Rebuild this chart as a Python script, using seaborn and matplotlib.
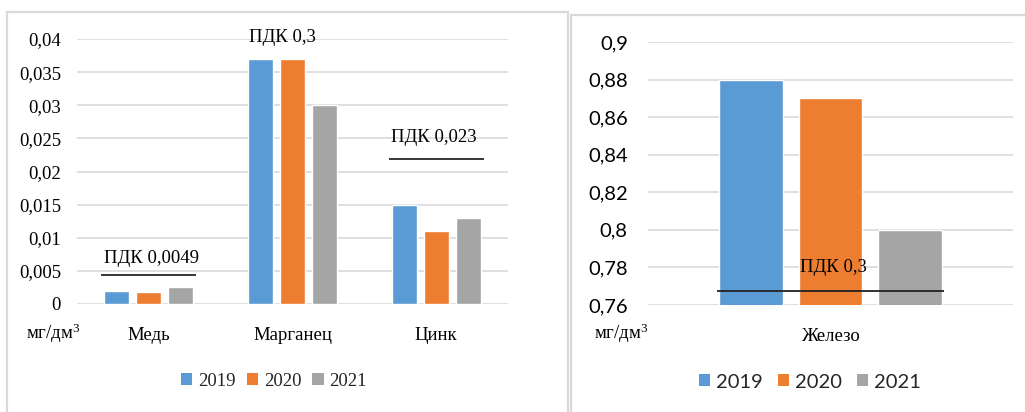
import matplotlib
matplotlib.use("Agg")
import matplotlib.pyplot as plt
from matplotlib.patches import Rectangle
import seaborn as sns
import pandas as pd

# ---- data ----
years = ["2019", "2020", "2021"]
left_categories = ["Медь", "Марганец", "Цинк"]
left_2019 = [0.002, 0.037, 0.015]
left_2020 = [0.0018, 0.037, 0.011]
left_2021 = [0.0025, 0.030, 0.013]
left_yticks = [0, 0.005, 0.01, 0.015, 0.02, 0.025, 0.03, 0.035, 0.04]
left_yticklabels = ["0", "0,005", "0,01", "0,015", "0,02", "0,025", "0,03", "0,035", "0,04"]
left_pdk_labels = ["ПДК 0,0049", "ПДК 0,3", "ПДК 0,023"]
left_pdk_lines = [0.0044, None, 0.0219]

right_categories = ["Железо"]
right_2019 = [0.88]
right_2020 = [0.87]
right_2021 = [0.80]
right_yticks = [0.76, 0.78, 0.80, 0.82, 0.84, 0.86, 0.88, 0.90]
right_yticklabels = ["0,76", "0,78", "0,8", "0,82", "0,84", "0,86", "0,88", "0,9"]
right_pdk_label = "ПДК 0,3"
right_pdk_line = 0.7676

unit_label = "мг/дм$^3$"
colors = ["#5B9BD5", "#ED7D31", "#A5A5A5"]

sns.set_theme(style="white")
plt.rcParams["font.family"] = ["Liberation Serif", "DejaVu Serif"]
plt.rcParams["mathtext.fontset"] = "custom"
plt.rcParams["mathtext.rm"] = "Liberation Serif"
plt.rcParams["mathtext.it"] = "Liberation Serif"
plt.rcParams["mathtext.default"] = "rm"

W, H = 1025, 412
fig = plt.figure(figsize=(W / 100, H / 100), dpi=100)
fig.patch.set_facecolor("white")

def fx(px):
    return px / W

def fy(py):
    return 1 - py / H

# panel borders
fig.patches.append(Rectangle((fx(7), fy(420)), fx(567.5) - fx(7), fy(12) - fy(420),
                             transform=fig.transFigure, fill=False, edgecolor="#d9d9d9",
                             linewidth=1.6, zorder=0))
fig.patches.append(Rectangle((fx(571), fy(420)), fx(1030) - fx(571), fy(15) - fy(420),
                             transform=fig.transFigure, fill=False, edgecolor="#d9d9d9",
                             linewidth=1.6, zorder=0))

def long_df(cats, a, b, c):
    rows = []
    for i, cat in enumerate(cats):
        for y, vals in zip(years, (a, b, c)):
            rows.append({"cat": cat, "year": y, "val": vals[i]})
    return pd.DataFrame(rows)

# ---------- left chart ----------
axL = fig.add_axes([fx(77), fy(304), fx(508) - fx(77), fy(39) - fy(304)])
dfL = long_df(left_categories, left_2019, left_2020, left_2021)
sns.barplot(data=dfL, x="cat", y="val", hue="year", palette=colors, ax=axL,
            width=0.668, gap=0.22, errorbar=None, saturation=1, legend=False, zorder=3)
axL.set_ylim(0, 0.04)
axL.set_xlim(-0.5, 2.5)
axL.set_yticks(left_yticks)
axL.set_yticklabels(left_yticklabels)
axL.yaxis.grid(True, color="#d9d9d9", linewidth=1.2, zorder=0)
axL.set_axisbelow(True)
for s in axL.spines.values():
    s.set_visible(False)
axL.tick_params(axis="y", length=0, pad=11.5, labelsize=13.5)
axL.tick_params(axis="x", length=0, pad=16.5, labelsize=13.5)
axL.set_xlabel("")
axL.set_ylabel("")
for lab in axL.get_yticklabels() + axL.get_xticklabels():
    lab.set_color("black")

half = 0.33
pdk_text_pos = [(0.02, 0.0069), (0.93, 0.0403), (1.985, 0.0252)]
for i, (lab, lvl) in enumerate(zip(left_pdk_labels, left_pdk_lines)):
    if lvl is not None:
        axL.hlines(lvl, i - half, i + half, color="black", linewidth=1.1, zorder=5)
    tx, ty = pdk_text_pos[i]
    axL.text(tx, ty, lab, ha="center", va="center", fontsize=13.5, color="black",
             zorder=6, clip_on=False)

fig.text(fx(53), fy(333), unit_label, ha="center", va="center", fontsize=13.5, color="black")

hL = [Rectangle((0, 0), 1, 1, facecolor=c, edgecolor="none") for c in colors]
fig.legend(hL, years, loc="center", bbox_to_anchor=(fx(274), fy(381)), ncol=3,
           frameon=False, fontsize=13.5, handlelength=0.6, handleheight=0.6,
           handletextpad=0.3, columnspacing=0.6)

# ---------- right chart ----------
axR = fig.add_axes([fx(648), fy(305), fx(1013) - fx(648), fy(42) - fy(305)])
dfR = long_df(right_categories, right_2019, right_2020, right_2021)
sns.barplot(data=dfR, x="cat", y="val", hue="year", palette=colors, ax=axR,
            width=0.657, gap=0.2, errorbar=None, saturation=1, legend=False, zorder=3)
axR.set_ylim(0.76, 0.9)
axR.set_xlim(-0.5, 0.5)
axR.set_yticks(right_yticks)
axR.set_yticklabels(right_yticklabels, family=["Lato", "DejaVu Sans"])
axR.yaxis.grid(True, color="#d9d9d9", linewidth=1.2, zorder=0)
axR.set_axisbelow(True)
for s in axR.spines.values():
    s.set_visible(False)
axR.tick_params(axis="y", length=0, pad=14.5, labelsize=14.5)
axR.tick_params(axis="x", length=0, pad=16.5, labelsize=13.5)
axR.set_xlabel("")
axR.set_ylabel("")
for lab in axR.get_yticklabels() + axR.get_xticklabels():
    lab.set_color("black")

axR.hlines(right_pdk_line, -0.31, 0.31, color="#222222", linewidth=1.3, zorder=5)
axR.text(0.007, 0.7802, right_pdk_label, ha="center", va="center", fontsize=13.5,
         color="black", zorder=6)

fig.text(fx(621), fy(333), unit_label, ha="center", va="center", fontsize=13.5, color="black")

hR = [Rectangle((0, 0), 1, 1, facecolor=c, edgecolor="none") for c in colors]
fig.legend(hR, years, loc="center", bbox_to_anchor=(fx(810), fy(382)), ncol=3,
           frameon=False, prop={"family": ["Lato", "DejaVu Sans"], "size": 14.5},
           handlelength=0.55, handleheight=0.55, handletextpad=0.3, columnspacing=0.75)

fig.savefig("out.png", dpi=100, facecolor="white")
